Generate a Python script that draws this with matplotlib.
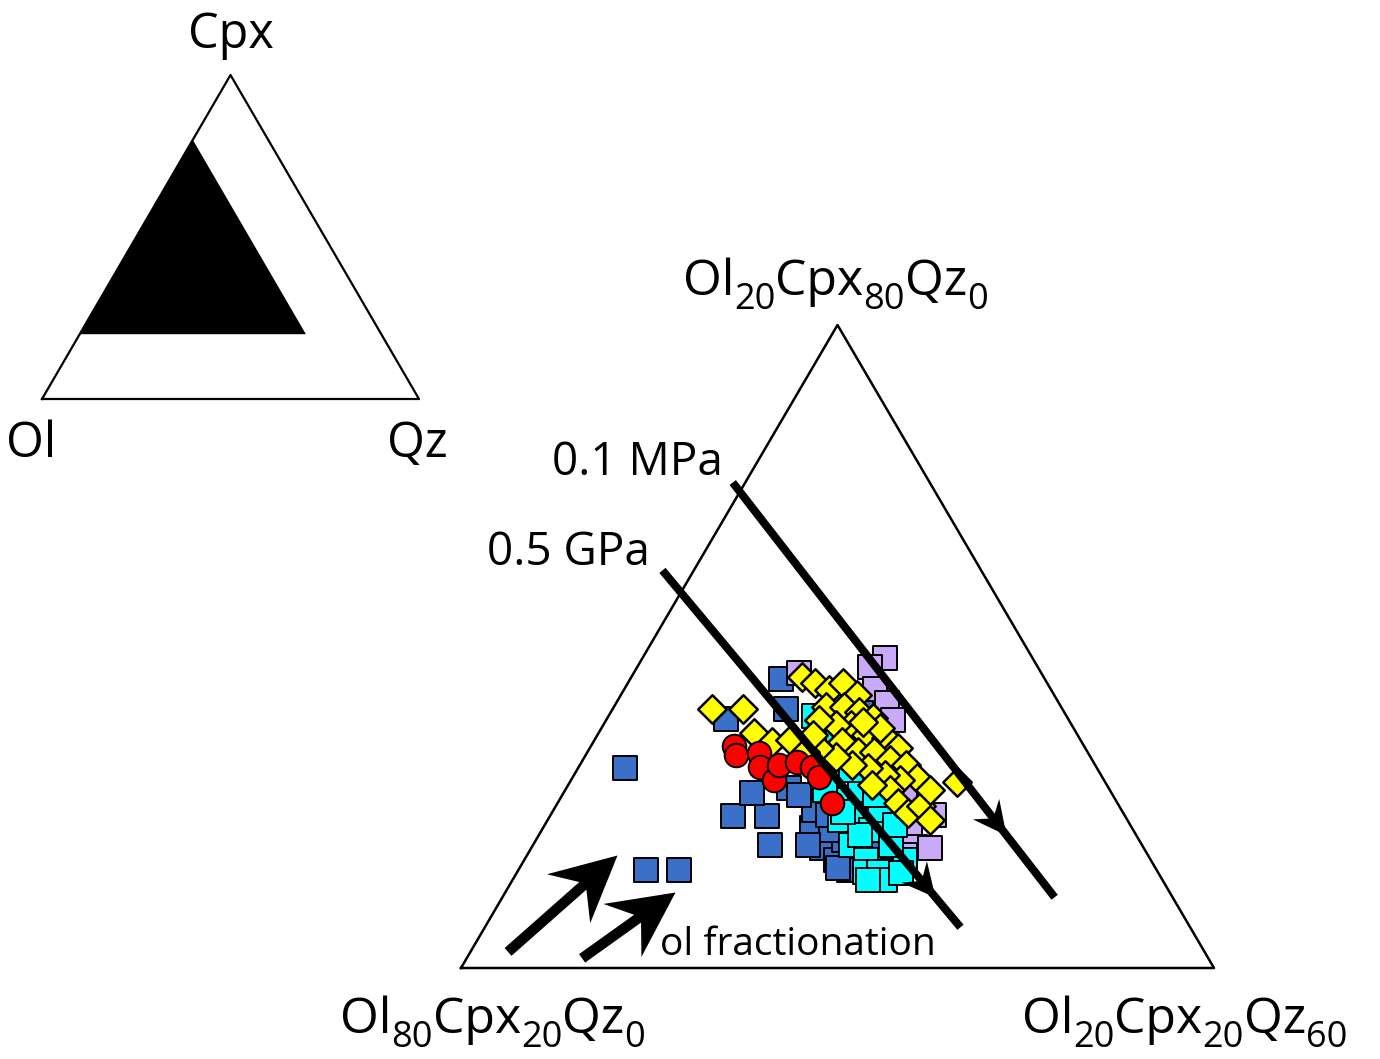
import numpy as np
import matplotlib.pyplot as plt
from matplotlib.markers import MarkerStyle
from matplotlib.path import Path
from matplotlib.transforms import Affine2D, IdentityTransform

plt.rcParams['font.family'] = ['Open Sans', 'DejaVu Sans']

# compositions in wt% (Ol = 100 - Cpx - Qz)
blue_cpx = [38.7, 29.1, 29.1, 34.2, 34.2, 31.5, 36.3, 43.2, 47.0, 44.2, 36.8, 45.0,
            33.1, 31.2, 30.1, 31.9, 30.5, 29.1, 29.9, 31.5, 34.7, 32.9, 36.1, 31.5, 29.1, 34.3,
            29.3]
blue_qz = [3.7, 10.2, 12.8, 14.6, 17.3, 18.9, 15.0, 9.5, 12.0, 13.8, 17.7, 19.4,
           21.4, 23.2, 24.8, 24.6, 26.5, 26.4, 28.4, 26.9, 20.8, 23.0, 18.9, 21.9, 29.9, 22.1,
           25.4]

purple_cpx = [48.9, 48.1, 46.0, 44.7, 43.1, 47.5, 33.2, 31.3, 31.2, 34.3, 30.5, 36.6]
purple_qz = [19.3, 18.5, 20.0, 21.6, 22.9, 13.2, 29.2, 30.5, 31.8, 30.5, 30.1, 27.1]

cyan_cpx = [43.5, 40.8, 38.5, 35.7, 36.6, 33.8, 32.9, 34.7, 31.5, 30.1, 29.0, 29.0,
            30.1, 31.5, 41.7, 36.6, 38.5, 33.3, 33.8, 36.1, 39.4, 32.4, 34.6, 28.2,
            28.9, 28.2]
cyan_qz = [16.4, 18.2, 20.3, 22.8, 23.5, 24.5, 26.2, 26.0, 25.3, 27.2, 27.7, 28.8,
           30.3, 28.5, 19.2, 20.7, 21.8, 27.9, 23.3, 24.9, 18.3, 25.6, 23.1, 29.7,
           30.6, 28.3]

yellow_cpx = [44.2, 44.2, 41.9, 47.2, 41.1, 41.3, 46.6, 45.9, 46.6, 45.5, 44.4, 44.4,
              43.9, 43.3, 42.7, 42.7, 43.1, 41.7, 41.5, 40.5, 41.1, 40.2, 40.2, 39.4,
              38.9, 37.7, 37.5, 38.0, 38.7, 38.9, 39.7, 40.5, 40.2, 36.6, 35.4, 34.5,
              35.1, 33.8, 36.6, 37.4, 37.1, 42.4, 43.0, 41.7]
yellow_qz = [7.9, 10.4, 12.4, 13.6, 14.2, 15.6, 14.9, 16.4, 17.1, 18.8, 16.9, 18.3,
             19.8, 21.2, 19.7, 18.5, 17.0, 21.4, 23.1, 24.6, 19.8, 21.5, 22.8, 24.5,
             26.0, 27.5, 26.2, 24.8, 23.1, 21.7, 20.0, 18.3, 17.3, 25.9, 27.1, 28.4,
             29.1, 30.5, 29.1, 30.8, 24.2, 22.2, 20.5, 17.2]

red_cpx = [40.7, 39.9, 40.1, 38.8, 37.5, 38.9, 39.2, 38.8, 37.8, 35.4]
red_qz = [11.4, 12.0, 13.7, 14.4, 16.2, 15.9, 17.2, 18.6, 19.6, 21.9]

# cotectic lines (start, end) as (Cpx, Qz)
cotectic_01mpa = [(65.3, -1.0), (26.6, 44.0)]
cotectic_05gpa = [(57.1, -2.5), (23.8, 37.9)]

# olivine fractionation arrows (tail, tip) as (Cpx, Qz)
ol_arrows = [[(21.5, 3.0), (30.5, 7.2)], [(20.9, 9.2), (27.1, 13.5)]]

# enlarged region of the small triangle, as (Cpx, Qz)
region = [(20, 0), (80, 0), (20, 60)]

# corner labels of the enlarged triangle: (text, is_subscript)
label_top = [('Ol', 0), ('20', 1), ('Cpx', 0), ('80', 1), ('Qz', 0), ('0', 1)]
label_left = [('Ol', 0), ('80', 1), ('Cpx', 0), ('20', 1), ('Qz', 0), ('0', 1)]
label_right = [('Ol', 0), ('20', 1), ('Cpx', 0), ('20', 1), ('Qz', 0), ('60', 1)]


def to_xy(cpx, qz):
    c = (np.asarray(cpx, dtype=float) - 20) / 60
    q = np.asarray(qz, dtype=float) / 60
    return q + c / 2, c


W, H = 1380, 1059
fig = plt.figure(figsize=(W / 100, H / 100), dpi=100)

# small overview triangle
ax2 = fig.add_axes([42 / W, (H - 399) / H, 377 / W, 324 / H])
ax2.set_xlim(0, 1)
ax2.set_ylim(0, 1)
ax2.axis('off')
ax2.plot([0, 1, 0.5, 0], [0, 0, 1, 0], color='k', lw=1.6, clip_on=False)
rc = np.array([p[0] for p in region]) / 100
rq = np.array([p[1] for p in region]) / 100
ax2.fill(rq + rc / 2, rc, color='k', lw=0)
ax2.text(0.5, 1.083, 'Cpx', ha='center', va='baseline', fontsize=35)
ax2.text(-0.095, -0.179, 'Ol', ha='left', va='baseline', fontsize=35)
ax2.text(1.077, -0.179, 'Qz', ha='right', va='baseline', fontsize=35)

# main triangle
ax = fig.add_axes([461 / W, (H - 968) / H, 753 / W, 643 / H])
ax.set_xlim(0, 1)
ax.set_ylim(0, 1)
ax.axis('off')
ax.plot([0, 1, 0.5, 0], [0, 0, 1, 0], color='k', lw=1.8, clip_on=False)

sq = 17.5 ** 2
x, y = to_xy(blue_cpx, blue_qz)
ax.scatter(x, y, marker='s', s=sq, c='#3A70C8', edgecolors='k', linewidths=1.4, zorder=3)
x, y = to_xy(purple_cpx, purple_qz)
ax.scatter(x, y, marker='s', s=sq, c='#C9AAF8', edgecolors='k', linewidths=1.4, zorder=3.1)
x, y = to_xy(cyan_cpx, cyan_qz)
ax.scatter(x, y, marker='s', s=sq, c='#00FFFF', edgecolors='k', linewidths=1.4, zorder=3.2)
x, y = to_xy(yellow_cpx, yellow_qz)
ax.scatter(x, y, marker='D', s=14.5 ** 2, c='#FFFF00', edgecolors='k', linewidths=1.8, zorder=3.3)
x, y = to_xy(red_cpx, red_qz)
ax.scatter(x, y, marker='o', s=17 ** 2, c='#FF0000', edgecolors='k', linewidths=1.4, zorder=3.4)

head_path = Path([(0, 0), (-2, 1.0), (-1.3, 0), (-2, -1.0), (0, 0)],
                 [Path.MOVETO, Path.LINETO, Path.LINETO, Path.LINETO, Path.CLOSEPOLY])


def arrow(ax, tail, tip, lw, head_ms, t_head=1.0):
    tx, ty = to_xy(*tail)
    hx, hy = to_xy(*tip)
    d0 = ax.transData.transform((tx, ty))
    d1 = ax.transData.transform((hx, hy))
    v = d1 - d0
    u = v / np.hypot(*v)
    ang = np.degrees(np.arctan2(v[1], v[0]))
    head_tip = d0 + t_head * v
    if t_head >= 1:
        head_len = 0.5 * head_ms * fig.dpi / 72
        line_end = head_tip - u * 0.6 * head_len
    else:
        line_end = d1
    inv = ax.transData.inverted()
    p0 = inv.transform(d0)
    p1 = inv.transform(line_end)
    ph = inv.transform(head_tip)
    ax.plot([p0[0], p1[0]], [p0[1], p1[1]], color='k', lw=lw,
            solid_capstyle='butt', zorder=5, clip_on=False)
    ax.plot([ph[0]], [ph[1]], ls='none', zorder=6, clip_on=False,
            marker=MarkerStyle(head_path, transform=Affine2D().rotate_deg(ang)),
            ms=head_ms, color='k', mew=0)


arrow(ax, cotectic_01mpa[0], cotectic_01mpa[1], 5.8, 48, t_head=0.85)
arrow(ax, cotectic_05gpa[0], cotectic_05gpa[1], 5.8, 48, t_head=0.915)
for tail, tip in ol_arrows:
    arrow(ax, tail, tip, 7.5, 94)

ax.text(0.234, 0.785, '0.1 MPa', ha='center', va='center', fontsize=33)
ax.text(0.143, 0.645, '0.5 GPa', ha='center', va='center', fontsize=33)
ax.text(0.264, 0.020, 'ol fractionation', ha='left', va='baseline', fontsize=28)


def sub_label(ax, xa, ya, parts, size=36, sub_size=26, drop=14, gap=0):
    r = fig.canvas.get_renderer()
    x0, y0 = ax.transAxes.transform((xa, ya))
    arts = [fig.text(0, 0, s, fontsize=sub_size if sub else size,
                     transform=IdentityTransform(), ha='left', va='baseline')
            for s, sub in parts]
    widths = [t.get_window_extent(r).width for t in arts]
    xp = x0 - (sum(widths) + gap * (len(arts) - 1)) / 2
    for t, w, (s, sub) in zip(arts, widths, parts):
        t.set_position((xp, y0 - drop if sub else y0))
        xp += w + gap


sub_label(ax, 0.497, 1.047, label_top)
sub_label(ax, 0.042, -0.101, label_left)
sub_label(ax, 0.961, -0.101, label_right)

fig.savefig('out.png', dpi=100)
